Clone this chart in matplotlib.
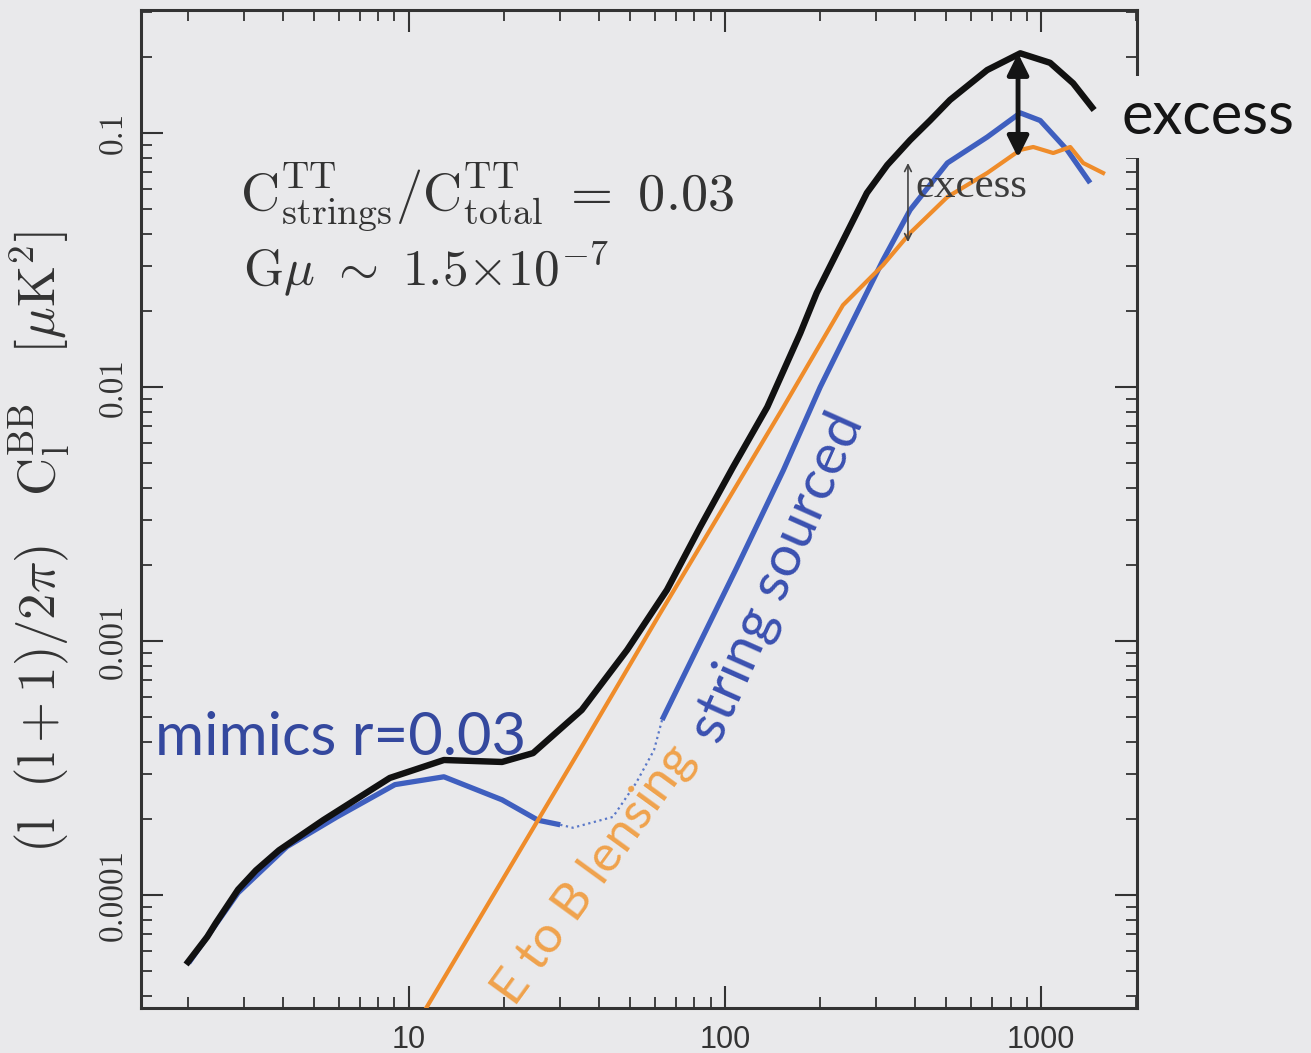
import numpy as np
import matplotlib.pyplot as plt
from matplotlib.ticker import LogLocator, NullFormatter

# total B-mode spectrum (black)
ell_total = [2.0, 2.3, 2.45, 2.88, 3.28, 3.88, 5.35, 8.7, 12.9, 19.7, 24.7, 35.2, 49.0,
             65.5, 83.4, 106, 136, 173, 195, 281, 326, 385, 445, 515, 675, 859, 1067,
             1262, 1450]
cl_total = [5.45e-5, 6.84e-5, 7.76e-5, 1.05e-4, 1.25e-4, 1.50e-4, 1.97e-4, 2.89e-4,
            3.40e-4, 3.34e-4, 3.62e-4, 5.35e-4, 9.22e-4, 1.59e-3, 2.81e-3, 4.84e-3,
            8.34e-3, 1.63e-2, 2.35e-2, 5.81e-2, 7.48e-2, 9.38e-2, 0.112, 0.135, 0.177,
            0.206, 0.189, 0.157, 0.126]

# string sourced B-modes (blue): low-l part, dotted gap, high-l part
ell_str_low = [2.01, 2.88, 4.11, 5.92, 9.03, 12.9, 19.7, 25.6, 30.1]
cl_str_low = [5.40e-5, 1.02e-4, 1.55e-4, 2.03e-4, 2.72e-4, 2.92e-4, 2.37e-4, 1.97e-4, 1.89e-4]
ell_str_gap = [30.1, 33.0, 44.2, 52.3, 59.6, 63.2]
cl_str_gap = [1.89e-4, 1.84e-4, 2.03e-4, 2.76e-4, 3.72e-4, 4.89e-4]
ell_str_high = [63.2, 109, 153, 200, 267, 316, 385, 505, 675, 859, 993, 1208, 1429]
cl_str_high = [4.89e-4, 1.95e-3, 4.71e-3, 1.0e-2, 2.07e-2, 3.16e-2, 4.98e-2, 7.62e-2,
               9.64e-2, 0.120, 0.112, 8.58e-2, 6.36e-2]

# E to B lensing (orange)
ell_lens = [10.0, 35.6, 62.2, 94.4, 153, 236, 316, 385, 505, 675, 859, 944, 1092, 1236, 1358, 1570]
cl_lens = [2.76e-5, 3.93e-4, 1.28e-3, 3.05e-3, 8.34e-3, 2.10e-2, 3.02e-2, 4.04e-2, 5.60e-2,
           6.96e-2, 8.58e-2, 8.81e-2, 8.34e-2, 8.81e-2, 7.62e-2, 6.96e-2]

xtick_vals = [10, 100, 1000]
xtick_labels = ["10", "100", "1000"]
ytick_vals = [1e-4, 1e-3, 1e-2, 1e-1]
ytick_labels = ["0.0001", "0.001", "0.01", "0.1"]

# arrows marking the excess
big_arrow_ell, big_arrow_top, big_arrow_bot = 845, 0.206, 0.080
small_arrow_ell, small_arrow_top, small_arrow_bot = 379, 0.0762, 0.0372

bg = "#e9e9eb"
plt.rcParams["mathtext.fontset"] = "cm"

fig = plt.figure(figsize=(13.11, 10.53), dpi=100)
fig.patch.set_facecolor(bg)
ax = fig.add_axes([141 / 1311, 1 - 1008 / 1053, 996 / 1311, 998 / 1053])
ax.set_facecolor(bg)
ax.set_xscale("log")
ax.set_yscale("log")

ax.plot(ell_str_low, cl_str_low, color="#3f5fbf", lw=3.8, zorder=2, solid_capstyle="butt")
ax.plot(ell_str_gap, cl_str_gap, color="#5a78c8", lw=1.6, ls=(0, (1, 1.6)), zorder=2)
ax.plot(ell_str_high, cl_str_high, color="#3f5fbf", lw=3.8, zorder=2, solid_capstyle="butt")
ax.plot(ell_lens, cl_lens, color="#ef8c2a", lw=3.0, zorder=3)
ax.plot(ell_total, cl_total, color="#111111", lw=4.6, zorder=4)

ax.set_xlim(1.42, 2010)
ax.set_ylim(3.59e-5, 0.305)

ax.set_xticks(xtick_vals, xtick_labels)
ax.set_yticks(ytick_vals, ytick_labels)
ax.xaxis.set_minor_locator(LogLocator(base=10, subs=np.arange(2, 10), numticks=50))
ax.yaxis.set_minor_locator(LogLocator(base=10, subs=np.arange(2, 10), numticks=50))
ax.xaxis.set_minor_formatter(NullFormatter())
ax.yaxis.set_minor_formatter(NullFormatter())
ax.tick_params(which="both", direction="in", top=True, right=True, color="#333333")
ax.tick_params(which="major", length=16, width=1.5)
ax.tick_params(which="minor", length=8, width=1.3)
ax.tick_params(axis="y", labelrotation=90, pad=9)
ax.tick_params(axis="x", pad=12)
for lab in ax.get_yticklabels():
    lab.set_fontfamily("cmr10")
    lab.set_fontsize(24)
    lab.set_color("#333333")
    lab.set_va("center")
for lab in ax.get_xticklabels():
    lab.set_fontfamily("Liberation Sans")
    lab.set_fontsize(22)
    lab.set_color("#333333")
for sp in ax.spines.values():
    sp.set_linewidth(2.2)
    sp.set_color("#333333")

# arrows
ax.annotate("", xy=(big_arrow_ell, big_arrow_bot), xytext=(big_arrow_ell, big_arrow_top),
            arrowprops=dict(arrowstyle="<|-|>", lw=3.5, color="#151515",
                            mutation_scale=32, shrinkA=0, shrinkB=0), zorder=5)
ax.annotate("", xy=(small_arrow_ell, small_arrow_bot), xytext=(small_arrow_ell, small_arrow_top),
            arrowprops=dict(arrowstyle="<->", lw=1.2, color="#444444",
                            mutation_scale=12, shrinkA=0, shrinkB=0), zorder=5)
ax.text(399, 0.0612, "excess", fontfamily="Liberation Serif", fontsize=31,
        color="#3c3c3c", ha="left", va="center", zorder=5)

# annotations
ax.text(2.92, 0.0498, r"$\mathrm{C^{TT}_{strings}/C^{TT}_{total}}\ =\ 0.03$",
        fontsize=39, color="#333333", ha="left", va="baseline")
ax.text(2.98, 0.0252, r"$\mathrm{G}\mu\ \sim\ 1.5{\times}10^{-7}$",
        fontsize=37, color="#333333", ha="left", va="baseline")
ax.text(1.57, 3.56e-4, "mimics r=0.03", fontfamily="Lato", fontsize=43,
        color="#34489e", ha="left", va="baseline", zorder=6)
ax.text(147, 1.77e-3, "string sourced", fontfamily="Lato", fontsize=41,
        color="#3a50b0", rotation=66, rotation_mode="anchor", ha="center", va="center")
ax.text(38.5, 1.2e-4, "E to B lensing", fontfamily="Lato", fontsize=37,
        color="#f0a24c", rotation=54, rotation_mode="anchor", ha="center", va="center",
        clip_on=False)

fig.text(1122 / 1311, 1 - 117 / 1053, "excess", fontfamily="Lato", fontsize=43,
         color="#151515", ha="left", va="center",
         bbox=dict(facecolor=bg, edgecolor="none", pad=10))

fig.text(40 / 1311, 1 - 542 / 1053,
         r"$(\mathrm{l\ \ (l+1)/2}\pi)\ \ \ \mathrm{C_l^{BB}}\ \ \ [\mu\mathrm{K^2}]$",
         fontsize=38, color="#333333", rotation=90, ha="center", va="center")

fig.savefig("out.png", dpi=100, facecolor=bg)
